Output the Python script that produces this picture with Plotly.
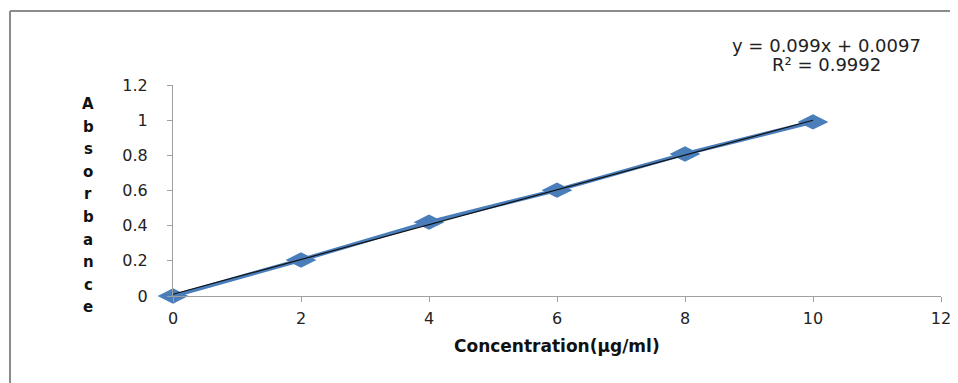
import plotly.graph_objects as go

concentration = [0, 2, 4, 6, 8, 10]
absorbance = [0.0, 0.205, 0.42, 0.602, 0.808, 0.99]
slope = 0.099
intercept = 0.0097
r2 = 0.9992
x_title = "Concentration(µg/ml)"
y_title = "Absorbance"

fit_x = [min(concentration), max(concentration)]
fit_y = [slope * v + intercept for v in fit_x]

# page has an 8px body margin; work in screen pixels
OFF = 8
W, H = 958 - OFF, 383 - OFF
X0, X1, Y0, Y1 = 173, 941, 296, 85  # plot area in screen px
ml, mr, mt, mb = X0 - OFF, (W + OFF) - X1, Y1 - OFF, (H + OFF) - Y0
pw, ph = X1 - X0, Y0 - Y1


def px(x):
    return (x - X0) / pw


def py(y):
    return (Y0 - y) / ph


fig = go.Figure()
fig.add_trace(go.Scatter(
    x=concentration, y=absorbance, mode="lines+markers",
    line=dict(color="#4a7ebb", width=4),
    marker=dict(symbol="diamond-wide", size=22, color="#4a7ebb"),
    cliponaxis=False, showlegend=False,
))
fig.add_trace(go.Scatter(
    x=fit_x, y=fit_y, mode="lines",
    line=dict(color="#111111", width=1.2),
    cliponaxis=False, showlegend=False,
))

axis_common = dict(
    showgrid=False, zeroline=False, showline=True, linecolor="#a0a0a0",
    linewidth=1, ticks="outside", ticklen=5, tickcolor="#a0a0a0",
    automargin=False,
    tickfont=dict(family="DejaVu Sans", size=16, color="#222222"),
)
fig.update_xaxes(range=[0, 12], dtick=2, tick0=0, ticklabelstandoff=3, **axis_common)
fig.update_yaxes(range=[0, 1.2], dtick=0.2, tick0=0, ticklabelstandoff=16, **axis_common)


def label(text, sx, sy, size, color="#111111"):
    fig.add_annotation(
        x=px(sx), y=py(sy), xref="paper", yref="paper", showarrow=False,
        xanchor="center", yanchor="middle", text=text,
        font=dict(family="DejaVu Sans", size=size, color=color),
    )


label("<b>" + x_title + "</b>", 557, 346, 17)
for i, ch in enumerate(y_title):
    label("<b>" + ch + "</b>", 88, 104 + i * 22.6, 15)
label(f"y = {slope}x + {intercept}", 826, 45, 18, "#222222")
label(f"R² = {r2}", 826, 65, 18, "#222222")

border = dict(color="#8c8c8c", width=2)
fig.add_shape(type="line", xref="paper", yref="paper",
              x0=px(10), x1=px(1000), y0=py(11), y1=py(11), line=border)
fig.add_shape(type="line", xref="paper", yref="paper",
              x0=px(10), x1=px(10), y0=py(11), y1=py(420), line=border)

fig.update_layout(
    width=W, height=H,
    margin=dict(l=ml, r=mr, t=mt, b=mb),
    paper_bgcolor="white", plot_bgcolor="white",
)
fig.write_html("out.html")
